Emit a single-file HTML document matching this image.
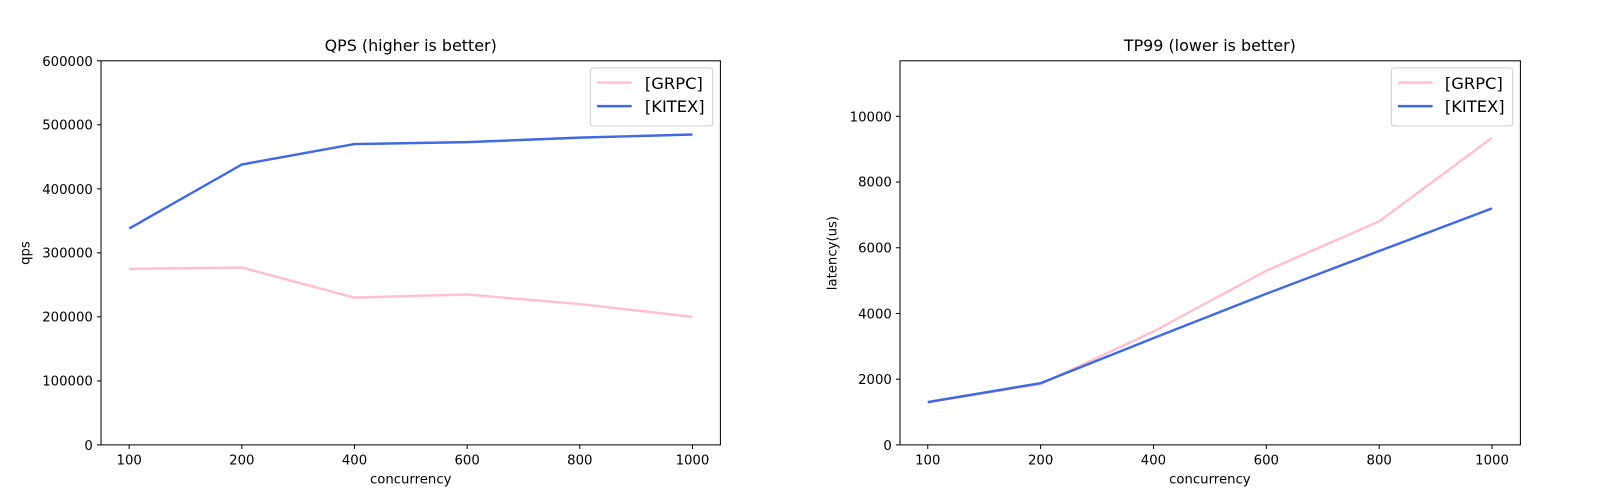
<!DOCTYPE html>
<html><head><meta charset="utf-8"><style>body{margin:0;background:#fff}svg{display:block}text{font-family:"DejaVu Sans","Liberation Sans",sans-serif;fill:#000}</style></head><body>
<svg width="1600" height="500" viewBox="0 0 1600 500" xmlns="http://www.w3.org/2000/svg">
<rect width="1600" height="500" fill="#fff"/>
<g transform="scale(1.0204)">
<!-- Left axes -->
<g>
<text x="402.5" y="50" font-size="15.6" text-anchor="middle">QPS (higher is better)</text>
<g stroke="#000" stroke-width="1">
<line x1="126.6" y1="436" x2="126.6" y2="440"/><line x1="237" y1="436" x2="237" y2="440"/><line x1="347.4" y1="436" x2="347.4" y2="440"/><line x1="457.8" y1="436" x2="457.8" y2="440"/><line x1="568.2" y1="436" x2="568.2" y2="440"/><line x1="678.6" y1="436" x2="678.6" y2="440"/>
<line x1="95" y1="436" x2="99" y2="436"/><line x1="95" y1="373.3" x2="99" y2="373.3"/><line x1="95" y1="310.5" x2="99" y2="310.5"/><line x1="95" y1="247.8" x2="99" y2="247.8"/><line x1="95" y1="185.1" x2="99" y2="185.1"/><line x1="95" y1="122.3" x2="99" y2="122.3"/><line x1="95" y1="59.6" x2="99" y2="59.6"/>
</g>
<g font-size="13" text-anchor="middle">
<text x="126.6" y="455">100</text><text x="237" y="455">200</text><text x="347.4" y="455">400</text><text x="457.8" y="455">600</text><text x="568.2" y="455">800</text><text x="678.6" y="455">1000</text>
</g>
<g font-size="13" text-anchor="end">
<text x="91" y="441">0</text><text x="91" y="378">100000</text><text x="91" y="315">200000</text><text x="91" y="252.5">300000</text><text x="91" y="190">400000</text><text x="91" y="127">500000</text><text x="91" y="64.5">600000</text>
</g>
<text x="402.5" y="474" font-size="13" text-anchor="middle">concurrency</text>
<text transform="translate(29,248) rotate(-90)" font-size="13" text-anchor="middle">qps</text>
<polyline fill="none" stroke="#ffc0cb" stroke-width="2.4" points="126.6,263.5 237,262.2 347.4,291.7 457.8,288.6 568.2,298 678.6,310.5"/>
<polyline fill="none" stroke="#4169e1" stroke-width="2.4" points="126.6,224 237,161.2 347.4,141.2 457.8,139.3 568.2,134.9 678.6,131.8"/>
<rect x="99" y="59.6" width="607" height="376.4" fill="none" stroke="#000" stroke-width="1"/>
<rect x="578.5" y="66.5" width="120" height="57" rx="3" fill="#fff" fill-opacity="0.8" stroke="#ccc"/>
<line x1="585" y1="81" x2="619" y2="81" stroke="#ffc0cb" stroke-width="2.4"/>
<line x1="585" y1="104" x2="619" y2="104" stroke="#4169e1" stroke-width="2.4"/>
<text x="632" y="87" font-size="16">[GRPC]</text>
<text x="632" y="110" font-size="16">[KITEX]</text>
</g>
<!-- Right axes -->
<g>
<text x="1185.7" y="50" font-size="15.6" text-anchor="middle">TP99 (lower is better)</text>
<g stroke="#000" stroke-width="1">
<line x1="909.2" y1="436" x2="909.2" y2="440"/><line x1="1019.8" y1="436" x2="1019.8" y2="440"/><line x1="1130.4" y1="436" x2="1130.4" y2="440"/><line x1="1241" y1="436" x2="1241" y2="440"/><line x1="1351.6" y1="436" x2="1351.6" y2="440"/><line x1="1462.2" y1="436" x2="1462.2" y2="440"/>
<line x1="878" y1="436" x2="882" y2="436"/><line x1="878" y1="371.6" x2="882" y2="371.6"/><line x1="878" y1="307.2" x2="882" y2="307.2"/><line x1="878" y1="242.8" x2="882" y2="242.8"/><line x1="878" y1="178.4" x2="882" y2="178.4"/><line x1="878" y1="114" x2="882" y2="114"/>
</g>
<g font-size="13" text-anchor="middle">
<text x="909.2" y="455">100</text><text x="1019.8" y="455">200</text><text x="1130.4" y="455">400</text><text x="1241" y="455">600</text><text x="1351.6" y="455">800</text><text x="1462.2" y="455">1000</text>
</g>
<g font-size="13" text-anchor="end">
<text x="874" y="441">0</text><text x="874" y="376.5">2000</text><text x="874" y="312">4000</text><text x="874" y="247.5">6000</text><text x="874" y="183">8000</text><text x="874" y="119">10000</text>
</g>
<text x="1185.7" y="474" font-size="13" text-anchor="middle">concurrency</text>
<text transform="translate(820,248) rotate(-90)" font-size="13" text-anchor="middle">latency(us)</text>
<polyline fill="none" stroke="#ffc0cb" stroke-width="2.4" points="909.2,394.1 1019.8,376.4 1130.4,324.9 1241,265.3 1351.6,217 1462.2,135"/>
<polyline fill="none" stroke="#4169e1" stroke-width="2.4" points="909.2,394.1 1019.8,375.5 1130.4,331.4 1241,287.9 1351.6,246 1462.2,204.2"/>
<rect x="882" y="59.6" width="608" height="376.4" fill="none" stroke="#000" stroke-width="1"/>
<rect x="1363.5" y="66.5" width="119" height="57" rx="3" fill="#fff" fill-opacity="0.8" stroke="#ccc"/>
<line x1="1370" y1="81" x2="1404" y2="81" stroke="#ffc0cb" stroke-width="2.4"/>
<line x1="1370" y1="104" x2="1404" y2="104" stroke="#4169e1" stroke-width="2.4"/>
<text x="1416" y="87" font-size="16">[GRPC]</text>
<text x="1416" y="110" font-size="16">[KITEX]</text>
</g>
</g>
</svg>
</body></html>
